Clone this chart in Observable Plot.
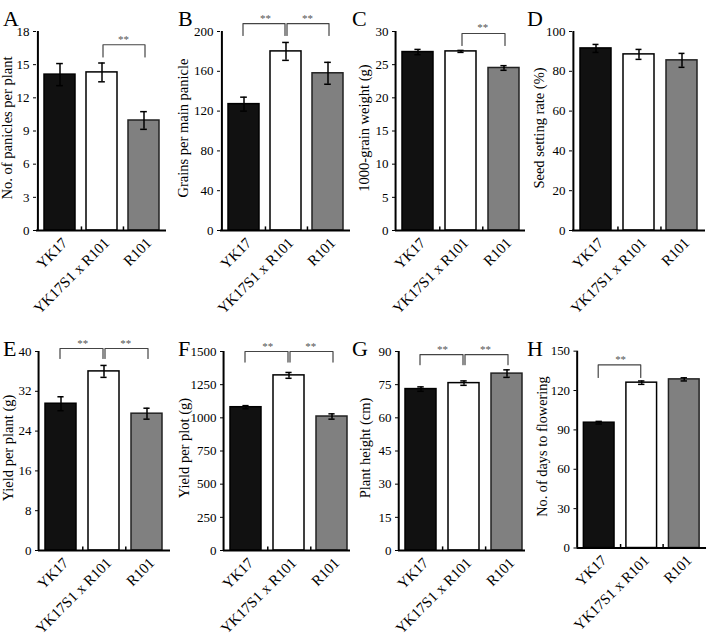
<!DOCTYPE html>
<html>
<head>
<meta charset="utf-8">
<script src="https://cdn.jsdelivr.net/npm/d3@7"></script>
<script src="https://cdn.jsdelivr.net/npm/@observablehq/plot@0.6"></script>
<style>
  html, body { margin: 0; padding: 0; background: #fff; overflow: hidden; }
  #root { position: relative; width: 709px; height: 637px; font-family: "Liberation Serif", "Times New Roman", serif; }
  .panel { position: absolute; }
  .letter { position: absolute; font-size: 22px; line-height: 22px; color: #000; }
</style>
</head>
<body>
<div id="root"></div>
<script>
// ---------- data ----------
const genotypes = ["YK17", "YK17S1 x R101", "R101"];
const panelLetters = ["A", "B", "C", "D", "E", "F", "G", "H"];
const yLabels = [
  "No. of panicles per plant",
  "Grains per main panicle",
  "1000-grain weight (g)",
  "Seed setting rate (%)",
  "Yield per plant (g)",
  "Yield per plot (g)",
  "Plant height (cm)",
  "No. of days to flowering"
];
const yTicks = [
  [0, 3, 6, 9, 12, 15, 18],
  [0, 40, 80, 120, 160, 200],
  [0, 5, 10, 15, 20, 25, 30],
  [0, 20, 40, 60, 80, 100],
  [0, 8, 16, 24, 32, 40],
  [0, 250, 500, 750, 1000, 1250, 1500],
  [0, 15, 30, 45, 60, 75, 90],
  [0, 30, 60, 90, 120, 150]
];
const means = [
  [14.1, 14.3, 9.95],
  [127, 180, 158],
  [26.9, 27.0, 24.5],
  [91.5, 88.5, 85.5],
  [29.5, 36.0, 27.5],
  [1080, 1320, 1010],
  [73.0, 75.7, 80.0],
  [95.5, 126.0, 128.5]
];
const errors = [
  [1.0, 0.85, 0.8],
  [7, 9, 11],
  [0.4, 0.15, 0.35],
  [2.0, 2.5, 3.5],
  [1.4, 1.2, 1.1],
  [12, 22, 20],
  [1.0, 1.0, 1.7],
  [1.0, 1.3, 1.2]
];
// significance brackets: panel, from index, to index, bracket level, leg end level
const bracketPanel = [0, 1, 1, 2, 4, 4, 5, 5, 6, 6, 7];
const bracketFrom  = [1, 0, 1, 1, 0, 1, 0, 1, 0, 1, 0];
const bracketTo    = [2, 1, 2, 2, 1, 2, 1, 2, 1, 2, 1];
const bracketLevel = [16.8, 208, 208, 29.7, 40.6, 40.6, 1500, 1500, 88.6, 88.6, 139.5];
const bracketLeg   = [15.7, 196, 196, 27.9, 38.6, 38.6, 1420, 1420, 84, 84, 130];

// ---------- styling / layout ----------
const barFill = ["#111111", "#ffffff", "#808080"];
const barStroke = ["#000000", "#000000", "#222222"];
const colStart = [0, 175, 350, 525, 0, 175, 350, 525];
const axisX = [36, 220, 395, 572, 38, 223, 398, 577];
const axisLen = [130, 130, 132, 133, 132, 132, 131, 131];
const labelOffset = [29, 37, 31, 33, 30, 39, 33, 35];
const rowTop = [0, 320];
const letterPos = [[3, 8], [178, 8], [352, 8], [527, 8], [3, 338], [178, 338], [352, 338], [527, 338]];
const PI = 0.27, PO = 0.15;
const H = 320, MT = 31, MB = 90, MR = 3;

const root = document.getElementById("root");

for (let p = 0; p < 8; p++) {
  const ML = axisX[p] - colStart[p];
  const W = ML + axisLen[p] + MR;
  const ymax = yTicks[p][yTicks[p].length - 1];
  const step = axisLen[p] / (3 - PI + 2 * PO);
  const bw = step * (1 - PI);

  const rows = genotypes.map((g, i) => ({
    g, m: means[p][i], lo: means[p][i] - errors[p][i], hi: means[p][i] + errors[p][i],
    fill: barFill[i], stroke: barStroke[i]
  }));

  const marks = [
    Plot.barY(rows, {x: "g", y: "m", fill: "fill", stroke: "stroke", strokeWidth: 1.5}),
    Plot.ruleX(rows, {x: "g", y1: "lo", y2: "hi", stroke: "#000", strokeWidth: 1.5}),
    Plot.tickY(rows, {x: "g", y: "hi", inset: (bw - 7) / 2, stroke: "#000", strokeWidth: 1.5}),
    Plot.tickY(rows, {x: "g", y: "lo", inset: (bw - 7) / 2, stroke: "#000", strokeWidth: 1.5}),
    // x axis line
    Plot.ruleY([0], {stroke: "#000", strokeWidth: 1.8}),
    // y axis line
    Plot.ruleX([genotypes[0]], {x: d => d, y1: 0, y2: ymax, dx: -(PO * step + bw / 2), stroke: "#000", strokeWidth: 2}),
    // small ticks between categories
    Plot.ruleX(genotypes.slice(0, 2), {x: d => d, y1: 0, y2: ymax * 0.018, dx: step / 2, stroke: "#000", strokeWidth: 1.5}),
    // rotated category labels
    Plot.text(genotypes, {x: d => d, frameAnchor: "bottom", text: d => d, rotate: -45, textAnchor: "end", lineAnchor: "middle", dx: 5, dy: 10, fontSize: 15, fill: "#000"}),
    // y label
    Plot.text([yLabels[p]], {frameAnchor: "left", text: d => d, rotate: -90, textAnchor: "middle", lineAnchor: "middle", dx: -labelOffset[p], dy: -3, fontSize: 14.5, fill: "#000"})
  ];

  for (let b = 0; b < bracketPanel.length; b++) {
    if (bracketPanel[b] !== p) continue;
    const a = genotypes[bracketFrom[b]], c = genotypes[bracketTo[b]];
    const pts = [
      {x: a, y: bracketLeg[b]}, {x: a, y: bracketLevel[b]},
      {x: c, y: bracketLevel[b]}, {x: c, y: bracketLeg[b]}
    ];
    const shift = bracketFrom[b] === 1 ? 1 : (bracketTo[b] === 1 ? -1 : 0);
    marks.push(Plot.line(pts, {x: "x", y: "y", stroke: "#444", strokeWidth: 1.2, dx: shift}));
    marks.push(Plot.text([a], {x: d => d, y: bracketLevel[b], text: () => "**", dx: step / 2, dy: -2, lineAnchor: "bottom", fontSize: 11, fill: "#555"}));
  }

  const svg = Plot.plot({
    width: W,
    height: H,
    marginTop: MT,
    marginBottom: MB,
    marginLeft: ML,
    marginRight: MR,
    style: {fontFamily: "'Liberation Serif', 'Times New Roman', serif", fontSize: "13px", background: "#fff", color: "#000", overflow: "visible"},
    color: {type: "identity"},
    x: {domain: genotypes, paddingInner: PI, paddingOuter: PO, axis: null},
    y: {domain: [0, ymax], ticks: yTicks[p], tickSize: 3, tickPadding: 4, label: null, tickFormat: d => String(d)},
    marks
  });
  const wrap = document.createElement("div");
  wrap.className = "panel";
  wrap.style.left = colStart[p] + "px";
  wrap.style.top = rowTop[p < 4 ? 0 : 1] + "px";
  wrap.appendChild(svg);
  root.appendChild(wrap);

  const letter = document.createElement("div");
  letter.className = "letter";
  letter.textContent = panelLetters[p];
  letter.style.left = letterPos[p][0] + "px";
  letter.style.top = letterPos[p][1] + "px";
  root.appendChild(letter);
}
</script>
</body>
</html>
